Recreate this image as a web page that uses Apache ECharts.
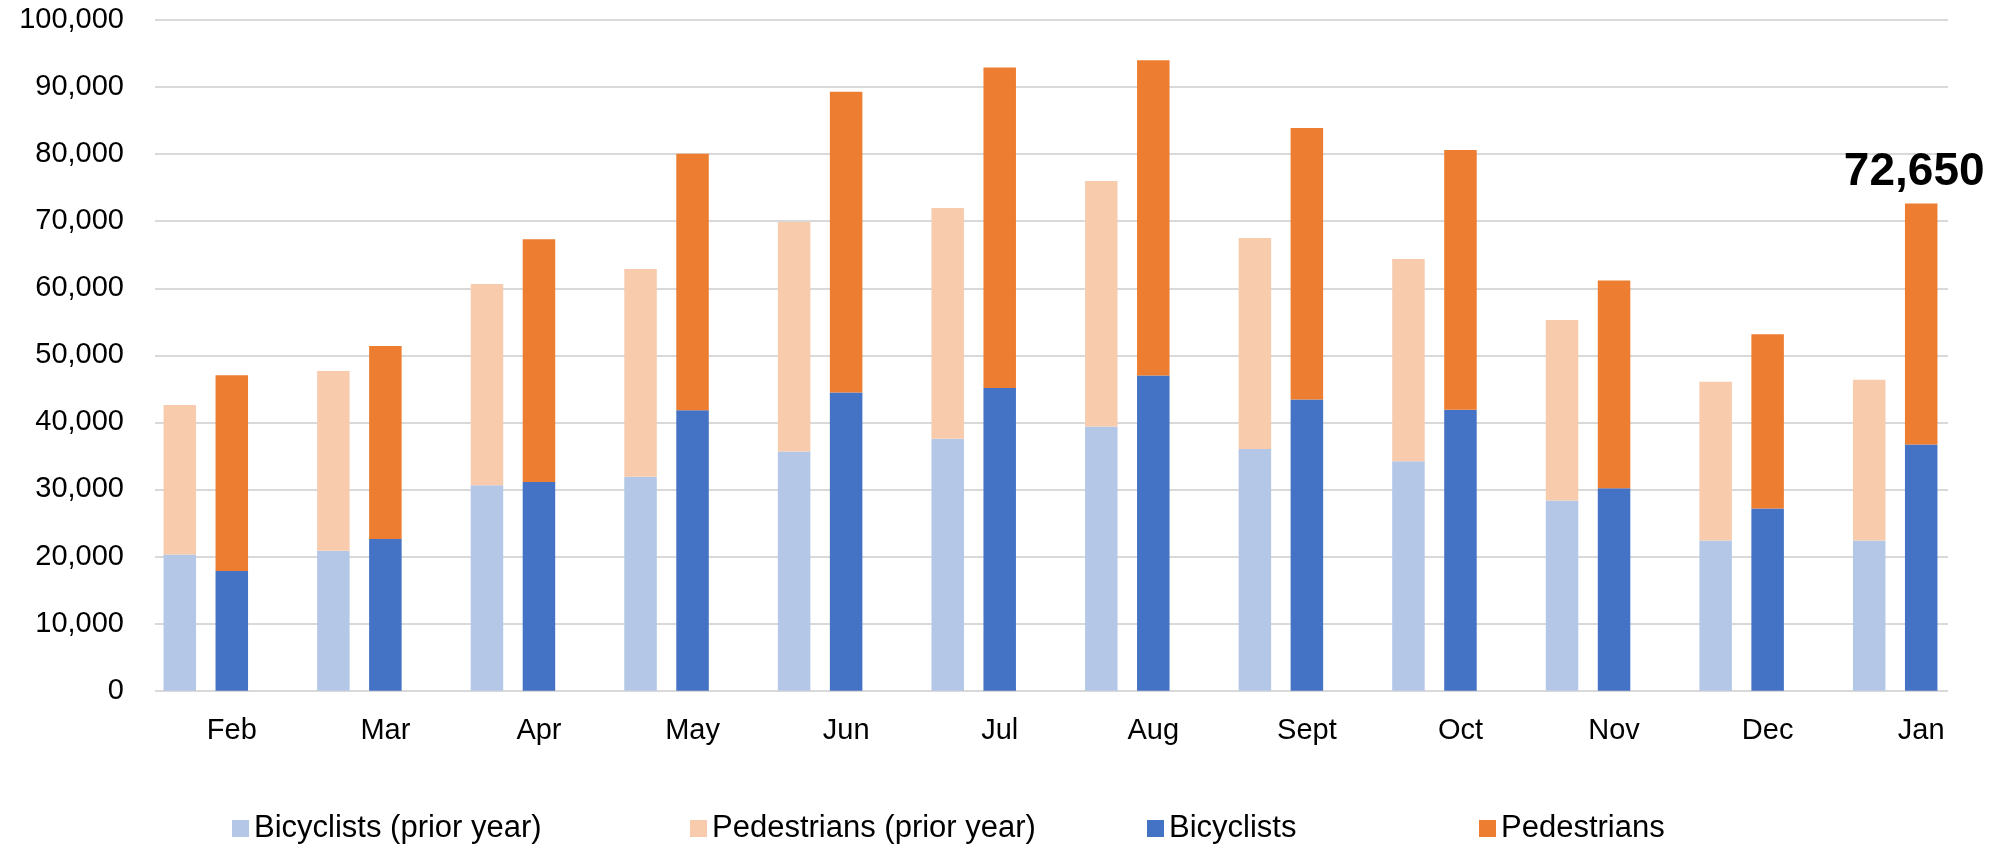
<!DOCTYPE html>
<html>
<head>
<meta charset="utf-8">
<title>Bicyclists and Pedestrians by Month</title>
<script src="https://cdn.jsdelivr.net/npm/echarts@6/dist/echarts.min.js"></script>
<style>
  html, body { margin: 0; padding: 0; background: #ffffff; }
  #chart { width: 2000px; height: 845px; }
</style>
</head>
<body>
<div id="chart"></div>
<script>
// Monthly counts, prior year vs current year
const months = ['Feb', 'Mar', 'Apr', 'May', 'Jun', 'Jul', 'Aug', 'Sept', 'Oct', 'Nov', 'Dec', 'Jan'];

const bicyclistsPrior  = [20300, 20850, 30650, 31900, 35650, 37550, 39400, 36050, 34200, 28350, 22400, 22400];
const pedestriansPrior = [22280, 26800, 29970, 30980, 34230, 34430, 36600, 31460, 30170, 26920, 23650, 23980];
const bicyclists       = [17850, 22600, 31100, 41800, 44450, 45150, 47000, 43400, 41900, 30200, 27150, 36700];
const pedestrians      = [29200, 28800, 36200, 38250, 44850, 47750, 47000, 40500, 38700, 30950, 26000, 35950];

const yTicks = [0, 10000, 20000, 30000, 40000, 50000, 60000, 70000, 80000, 90000, 100000];

const FONT = '"Liberation Sans", Arial, sans-serif';
const fmt = v => Number(v).toLocaleString('en-US');

const colors = {
  bikePrior: '#b4c7e7',
  pedPrior: '#f8cbad',
  bike: '#4472c4',
  ped: '#ed7d31'
};

const last = months.length - 1;
const BAR_W = 32.5;
const BAR_GAP = '60%';

// Latest month's total is called out above its stack
const pedestrianData = pedestrians.map((v, i) => i === last ? {
  value: v,
  label: {
    show: true,
    position: 'top',
    distance: 8,
    offset: [-7, 0],
    formatter: p => fmt(bicyclists[p.dataIndex] + pedestrians[p.dataIndex]),
    fontFamily: FONT,
    fontSize: 46,
    fontWeight: 'bold',
    color: '#000000'
  }
} : v);

function legendAt(name, left) {
  return {
    data: [name],
    left: left,
    top: 808,
    orient: 'horizontal',
    itemWidth: 17,
    itemHeight: 17,
    icon: 'rect',
    selectedMode: false,
    textStyle: { fontFamily: FONT, fontSize: 31, color: '#000000' }
  };
}

const chart = echarts.init(document.getElementById('chart'), null, { renderer: 'canvas' });

chart.setOption({
  animation: false,
  backgroundColor: '#ffffff',
  legend: [
    legendAt('Bicyclists (prior year)', 227),
    legendAt('Pedestrians (prior year)', 685),
    legendAt('Bicyclists', 1142),
    legendAt('Pedestrians', 1474)
  ],
  grid: [
    // value scale with gridlines
    { left: 155, right: 52, top: 20, bottom: 154.3 },
    // month columns
    { left: 155, right: 2, top: 20, bottom: 154.3 }
  ],
  xAxis: [
    { gridIndex: 0, type: 'category', data: months, show: false },
    {
      gridIndex: 1,
      type: 'category',
      data: months,
      axisLine: { show: false },
      axisTick: { show: false },
      axisLabel: { fontFamily: FONT, fontSize: 29, color: '#000000', margin: 26 }
    }
  ],
  yAxis: [
    {
      gridIndex: 0,
      type: 'value',
      min: yTicks[0],
      max: yTicks[yTicks.length - 1],
      interval: yTicks[1] - yTicks[0],
      axisLine: { show: false },
      axisTick: { show: false },
      axisLabel: { fontFamily: FONT, fontSize: 29, color: '#000000', margin: 31, formatter: fmt },
      splitLine: { show: true, lineStyle: { color: '#d9d9d9', width: 2 } }
    },
    {
      gridIndex: 1,
      type: 'value',
      min: yTicks[0],
      max: yTicks[yTicks.length - 1],
      show: false,
      splitLine: { show: false }
    }
  ],
  series: [
    {
      name: 'Bicyclists (prior year)', type: 'bar', stack: 'prior',
      xAxisIndex: 1, yAxisIndex: 1, data: bicyclistsPrior,
      barWidth: BAR_W, barGap: BAR_GAP,
      itemStyle: { color: colors.bikePrior }
    },
    {
      name: 'Pedestrians (prior year)', type: 'bar', stack: 'prior',
      xAxisIndex: 1, yAxisIndex: 1, data: pedestriansPrior,
      barWidth: BAR_W, barGap: BAR_GAP,
      itemStyle: { color: colors.pedPrior }
    },
    {
      name: 'Bicyclists', type: 'bar', stack: 'current',
      xAxisIndex: 1, yAxisIndex: 1, data: bicyclists,
      barWidth: BAR_W, barGap: BAR_GAP,
      itemStyle: { color: colors.bike }
    },
    {
      name: 'Pedestrians', type: 'bar', stack: 'current',
      xAxisIndex: 1, yAxisIndex: 1, data: pedestrianData,
      barWidth: BAR_W, barGap: BAR_GAP,
      itemStyle: { color: colors.ped }
    },
    {
      // empty third slot so each month's label sits under the current-year column
      name: 'gap', type: 'bar', stack: 'gap',
      xAxisIndex: 1, yAxisIndex: 1, data: months.map(() => '-'),
      barWidth: BAR_W, barGap: BAR_GAP,
      itemStyle: { color: 'transparent' },
      silent: true
    }
  ]
});
</script>
</body>
</html>
